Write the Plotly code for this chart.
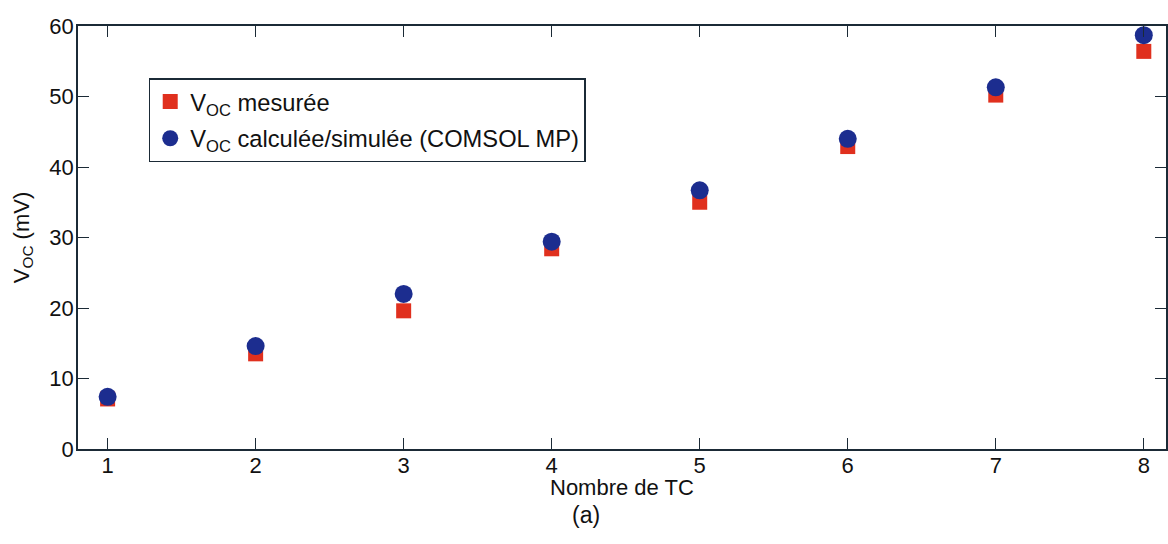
import plotly.graph_objects as go

nb_tc = [1, 2, 3, 4, 5, 6, 7, 8]
voc_mesuree = [7.1, 13.5, 19.6, 28.4, 35.0, 42.9, 50.2, 56.4]
voc_simulee = [7.4, 14.6, 22.0, 29.4, 36.7, 44.0, 51.3, 58.7]
x_ticks = [1, 2, 3, 4, 5, 6, 7, 8]
y_ticks = [0, 10, 20, 30, 40, 50, 60]

FONT = "Liberation Sans, Arial, Helvetica, sans-serif"
AX = "#1b2a36"

fig = go.Figure()
fig.add_trace(go.Scatter(
    x=nb_tc, y=voc_mesuree, mode="markers", legendgroup="a",
    name="V<sub>OC</sub> mesurée",
    marker=dict(symbol="square", size=15, color="#e0301e", line=dict(width=0)),
))
fig.add_trace(go.Scatter(
    x=nb_tc, y=voc_simulee, mode="markers", legendgroup="b",
    name="V<sub>OC</sub> calculée/simulée (COMSOL MP)",
    marker=dict(symbol="circle", size=18, color="#1c2d8f", line=dict(width=0)),
))

fig.update_layout(
    width=1168, height=544,
    margin=dict(l=78, r=2, t=26, b=95, autoexpand=False),
    paper_bgcolor="white", plot_bgcolor="white",
    font=dict(family=FONT, size=22, color="#111111"),
    showlegend=True,
    legend=dict(
        x=0.065, y=0.877, xanchor="left", yanchor="top",
        bordercolor=AX, borderwidth=1.5, bgcolor="white",
        font=dict(family=FONT, size=23.7, color="#111111"),
        tracegroupgap=3, itemwidth=30,
    ),
    xaxis=dict(
        range=[0.8, 8.15], tickvals=x_ticks, ticktext=[str(v) for v in x_ticks],
        showgrid=False, zeroline=False, showline=True, linecolor=AX, linewidth=1.5,
        mirror="ticks", ticks="inside", ticklen=11, tickwidth=1.2, tickcolor=AX,
        automargin=False, ticklabelstandoff=-4, tickfont=dict(size=22),
    ),
    yaxis=dict(
        range=[0, 60], tickvals=y_ticks, ticktext=[str(v) for v in y_ticks],
        showgrid=False, zeroline=False, showline=True, linecolor=AX, linewidth=1.5,
        mirror="ticks", ticks="inside", ticklen=11, tickwidth=1.2, tickcolor=AX,
        automargin=False, ticklabelstandoff=-2, tickfont=dict(size=22),
        title=dict(text="V<sub>OC</sub> (mV)", standoff=14, font=dict(size=22)),
    ),
    annotations=[
        dict(
            text="Nombre de TC", xref="paper", yref="paper", x=0.5, y=-0.092,
            xanchor="center", yanchor="middle", showarrow=False,
            font=dict(family=FONT, size=22, color="#111111"),
        ),
        dict(
            text="(a)", xref="paper", yref="paper", x=0.467, y=-0.156,
            xanchor="center", yanchor="middle", showarrow=False,
            font=dict(family=FONT, size=23, color="#111111"),
        ),
    ],
)

fig.write_html("out.html", config={"displayModeBar": False},
               post_script="document.body.style.margin='0';")
